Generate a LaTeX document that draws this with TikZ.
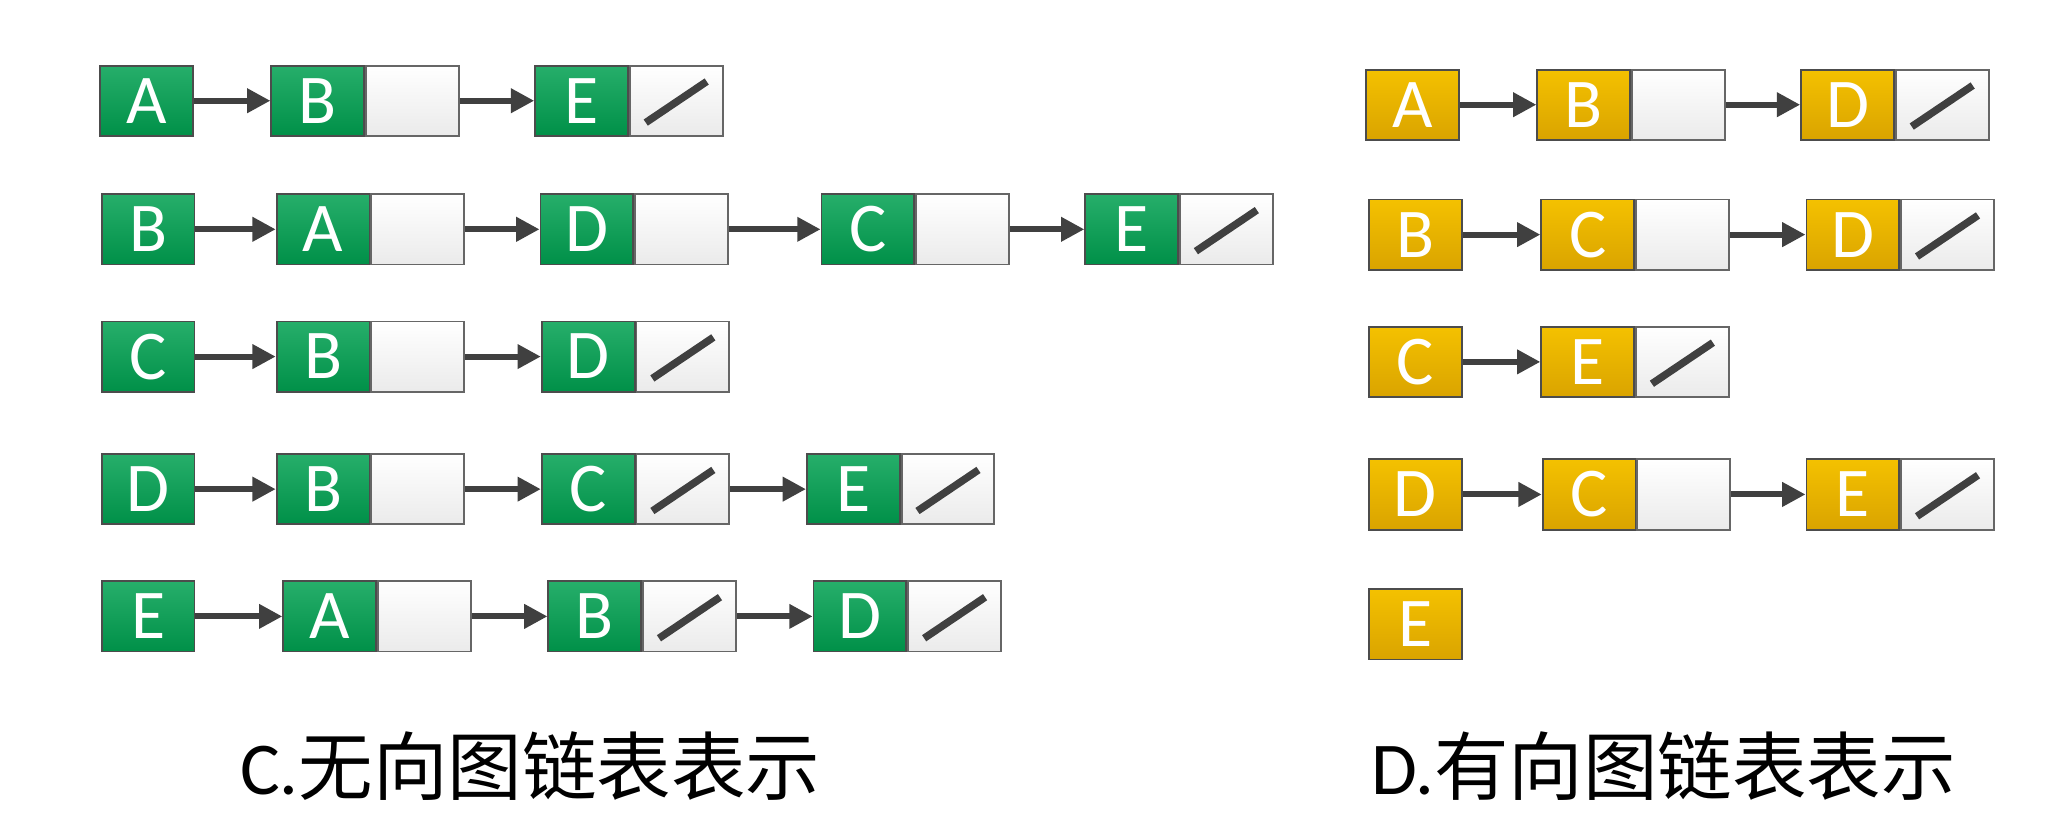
\documentclass[tikz,border=0pt]{standalone}
\usepackage{fontspec}
\setmainfont{Carlito}
\newfontfamily\cjk{Noto Sans CJK SC}
\usetikzlibrary{positioning,arrows.meta}
\definecolor{hgreen}{RGB}{0,160,80}
\definecolor{hgold}{RGB}{242,182,0}
\tikzset{
  box/.style={draw=black!70, inner sep=0pt, minimum height=0.53cm, minimum width=0.7cm, anchor=west, font=\fontsize{15}{15}\selectfont},
  gbox/.style={box, top color=hgreen!85, bottom color=hgreen!90!black, text=white},
  ybox/.style={box, top color=hgold!85!yellow, bottom color=hgold!90!black, text=white},
  cellbox/.style={box, draw=black!60, top color=white, bottom color=black!8, right=0pt of #1},
  nilbox/.style={cellbox=#1, path picture={\draw[black!75, line width=1.6pt]
      ([xshift=0.12cm,yshift=0.1cm]path picture bounding box.south west) --
      ([xshift=-0.12cm,yshift=-0.12cm]path picture bounding box.north east);}},
  arr/.style={-{Triangle[length=5pt,width=5pt]}, draw=black!75, line width=1.3pt},
  caption/.style={font=\fontsize{16}{16}\selectfont}
}
\begin{document}
\begin{tikzpicture}[x=0.1mm,y=-0.1mm]
\useasboundingbox (0,0) rectangle (1560,630);
% undirected
\node[gbox] (g1) at (75,76) {A};
\node[gbox] (g1b) at (204,76) {B}; \node[cellbox=g1b] (g1bc) {};
\node[gbox] (g1e) at (403,76) {E}; \node[nilbox=g1e] (g1ec) {};
\draw[arr] (g1) -- (g1b); \draw[arr] (g1bc) -- (g1e);

\node[gbox] (g2) at (76,173) {B};
\node[gbox] (g2a) at (208,173) {A}; \node[cellbox=g2a] (g2ac) {};
\node[gbox] (g2d) at (407,173) {D}; \node[cellbox=g2d] (g2dc) {};
\node[gbox] (g2c) at (619,173) {C}; \node[cellbox=g2c] (g2cc) {};
\node[gbox] (g2e) at (818,173) {E}; \node[nilbox=g2e] (g2ec) {};
\draw[arr] (g2) -- (g2a); \draw[arr] (g2ac) -- (g2d);
\draw[arr] (g2dc) -- (g2c); \draw[arr] (g2cc) -- (g2e);

\node[gbox] (g3) at (76,269) {C};
\node[gbox] (g3b) at (208,269) {B}; \node[cellbox=g3b] (g3bc) {};
\node[gbox] (g3d) at (408,269) {D}; \node[nilbox=g3d] (g3dc) {};
\draw[arr] (g3) -- (g3b); \draw[arr] (g3bc) -- (g3d);

\node[gbox] (g4) at (76,369) {D};
\node[gbox] (g4b) at (208,369) {B}; \node[cellbox=g4b] (g4bc) {};
\node[gbox] (g4c) at (408,369) {C}; \node[nilbox=g4c] (g4cc) {};
\node[gbox] (g4e) at (608,369) {E}; \node[nilbox=g4e] (g4ec) {};
\draw[arr] (g4) -- (g4b); \draw[arr] (g4bc) -- (g4c); \draw[arr] (g4cc) -- (g4e);

\node[gbox] (g5) at (76,465) {E};
\node[gbox] (g5a) at (213,465) {A}; \node[cellbox=g5a] (g5ac) {};
\node[gbox] (g5b) at (413,465) {B}; \node[nilbox=g5b] (g5bc) {};
\node[gbox] (g5d) at (613,465) {D}; \node[nilbox=g5d] (g5dc) {};
\draw[arr] (g5) -- (g5a); \draw[arr] (g5ac) -- (g5b); \draw[arr] (g5bc) -- (g5d);

% directed
\node[ybox] (y1) at (1030,79) {A};
\node[ybox] (y1b) at (1159,79) {B}; \node[cellbox=y1b] (y1bc) {};
\node[ybox] (y1d) at (1358,79) {D}; \node[nilbox=y1d] (y1dc) {};
\draw[arr] (y1) -- (y1b); \draw[arr] (y1bc) -- (y1d);

\node[ybox] (y2) at (1032,177) {B};
\node[ybox] (y2c) at (1162,177) {C}; \node[cellbox=y2c] (y2cc) {};
\node[ybox] (y2d) at (1362,177) {D}; \node[nilbox=y2d] (y2dc) {};
\draw[arr] (y2) -- (y2c); \draw[arr] (y2cc) -- (y2d);

\node[ybox] (y3) at (1032,273) {C};
\node[ybox] (y3e) at (1162,273) {E}; \node[nilbox=y3e] (y3ec) {};
\draw[arr] (y3) -- (y3e);

\node[ybox] (y4) at (1032,373) {D};
\node[ybox] (y4c) at (1163,373) {C}; \node[cellbox=y4c] (y4cc) {};
\node[ybox] (y4e) at (1362,373) {E}; \node[nilbox=y4e] (y4ec) {};
\draw[arr] (y4) -- (y4c); \draw[arr] (y4cc) -- (y4e);

\node[ybox] (y5) at (1032,471) {E};

\node[caption] (capC) at (400,578) {C.\cjk 无向图链表表示};
\node[caption] (capD) at (1255,578) {D.\cjk 有向图链表表示};
\end{tikzpicture}
\end{document}
